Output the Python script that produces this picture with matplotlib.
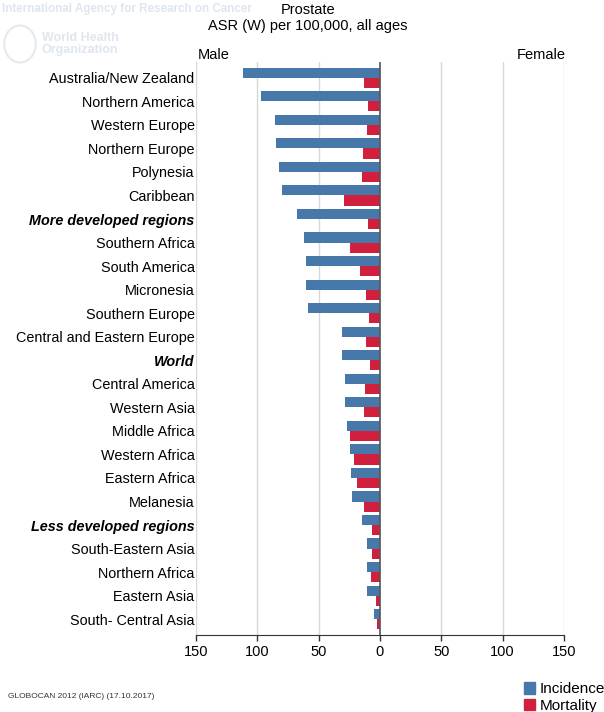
import matplotlib.pyplot as plt
from matplotlib.patches import Patch

plt.rcParams['font.family'] = ['Liberation Sans', 'DejaVu Sans']

regions = ["Australia/New Zealand", "Northern America", "Western Europe",
           "Northern Europe", "Polynesia", "Caribbean", "More developed regions",
           "Southern Africa", "South America", "Micronesia", "Southern Europe",
           "Central and Eastern Europe", "World", "Central America",
           "Western Asia", "Middle Africa", "Western Africa", "Eastern Africa",
           "Melanesia", "Less developed regions", "South-Eastern Asia",
           "Northern Africa", "Eastern Asia", "South- Central Asia"]
incidence = [111.6, 97.2, 85.8, 85.0, 82.4, 79.8, 68.0, 61.8, 60.1, 60.2, 58.6,
             31.3, 31.1, 28.8, 28.2, 26.5, 24.8, 23.6, 22.9, 14.5, 10.9, 10.6,
             10.5, 4.8]
mortality = [13.0, 9.8, 10.5, 14.2, 15.0, 29.3, 10.0, 24.4, 16.5, 11.8, 9.2,
             11.7, 7.8, 12.5, 13.2, 24.2, 21.6, 18.9, 13.1, 6.6, 6.5, 7.2, 3.5, 2.7]
bold_rows = ["More developed regions", "World", "Less developed regions"]
ticks = [-150, -100, -50, 0, 50, 100, 150]

blue = '#4679a9'
red = '#d11f3e'

fig = plt.figure(figsize=(6.04, 7.12), dpi=100)
ax = fig.add_axes([196 / 604, 1 - 635 / 712, 368 / 604, (635 - 62) / 712])

y = range(len(regions))
h = 0.43
ax.barh([i - h / 2 for i in y], [-v for v in incidence], height=h, color=blue, zorder=3)
ax.barh([i + h / 2 for i in y], [-v for v in mortality], height=h, color=red, zorder=3)

ax.set_xlim(-150, 150)
ax.set_ylim(len(regions) - 0.33, -0.67)
for t in ticks:
    if t == 0:
        ax.axvline(0, color='#555555', lw=1.2, zorder=4)
    else:
        ax.axvline(t, color='#d8d8d8', lw=1, zorder=1)

ax.set_xticks(ticks)
ax.set_xticklabels([str(abs(t)) for t in ticks], fontsize=10.5)
ax.tick_params(axis='x', length=4, width=1, color='#333333', pad=3)
ax.set_yticks(list(y))
ax.set_yticklabels(regions, fontsize=10.4)
ax.tick_params(axis='y', length=0, pad=1)
for lab in ax.get_yticklabels():
    if lab.get_text() in bold_rows:
        lab.set_fontweight('bold')
        lab.set_fontstyle('italic')

for s in ['top', 'right', 'left']:
    ax.spines[s].set_visible(False)
ax.spines['bottom'].set_color('#333333')

# titles and side labels
fig.text(308 / 604, 1 - 10 / 712, "Prostate", ha='center', va='center', fontsize=10.5)
fig.text(308 / 604, 1 - 26 / 712, "ASR (W) per 100,000, all ages", ha='center',
         va='center', fontsize=10.5)
fig.text(198 / 604, 1 - 55 / 712, "Male", ha='left', va='center', fontsize=10.5)
fig.text(566 / 604, 1 - 55 / 712, "Female", ha='right', va='center', fontsize=10.5)

# faint watermark
fig.text(2 / 604, 1 - 9 / 712, "International Agency for Research on Cancer",
         ha='left', va='center', fontsize=8.4, fontweight='bold', color='#dfe6ee')
fig.text(42 / 604, 1 - 44 / 712, "World Health\nOrganization", ha='left',
         va='center', fontsize=9, fontweight='bold', color='#dfe6ee', linespacing=0.9)
fig.patches.append(plt.Circle((20 / 604, 1 - 44 / 712), 0.026, transform=fig.transFigure,
                              fill=False, ec='#e3e9ef', lw=1.5))

fig.text(8 / 604, 1 - 697 / 712, "GLOBOCAN 2012 (IARC) (17.10.2017)", ha='left',
         va='center', fontsize=6, color='#333333')

handles = [Patch(color=blue, label='Incidence'), Patch(color=red, label='Mortality')]
fig.legend(handles=handles, loc='lower right', bbox_to_anchor=(1.02, -0.016),
           frameon=False, fontsize=11, handlelength=0.75, handleheight=0.75,
           handletextpad=0.3, labelspacing=0.15, borderpad=0.2)

fig.savefig('out.png', dpi=100)
